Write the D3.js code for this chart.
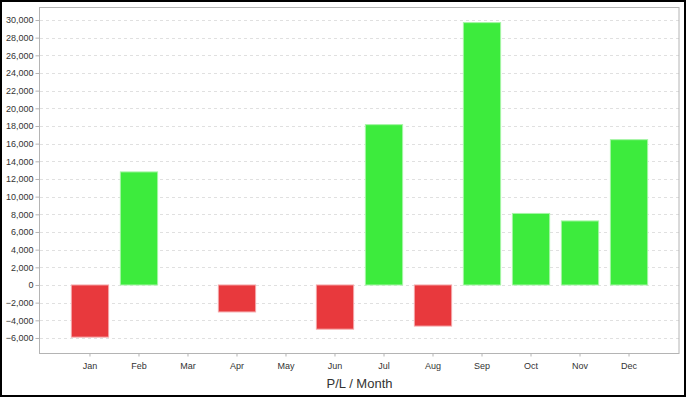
<!DOCTYPE html>
<html>
<head>
<meta charset="utf-8">
<script src="https://cdn.jsdelivr.net/npm/d3@7"></script>
<style>
	body { margin: 0; background: white; }
	text { font-family: "Liberation Sans", Arial, sans-serif; }
</style>
</head>
<body>
<script>
// P/L per month
var months = ['Jan', 'Feb', 'Mar', 'Apr', 'May', 'Jun', 'Jul', 'Aug', 'Sep', 'Oct', 'Nov', 'Dec']
var pl = [-5900, 12800, 0, -3050, 0, -5000, 18150, -4650, 29700, 8100, 7250, 16450]
var yTicks = [-6000, -4000, -2000, 0, 2000, 4000, 6000, 8000, 10000, 12000, 14000, 16000,
	18000, 20000, 22000, 24000, 26000, 28000, 30000]

var width = 688,
	height = 398

var plot = {left: 40, top: 7, right: 679, bottom: 353}

var svg = d3.select('body').append('svg')
	.attr('width', width)
	.attr('height', height)

// outer frame
svg.append('rect')
	.attr('x', 1).attr('y', 1)
	.attr('width', 684).attr('height', 395)
	.attr('fill', 'white')
	.attr('stroke', 'black')
	.attr('stroke-width', 2)

var x = d3.scaleBand()
	.domain(months)
	.range([plot.left, plot.right])
	.paddingInner(0.24)
	.paddingOuter(0.64)

var y = d3.scaleLinear()
	.domain([-7700, 31470])
	.range([plot.bottom, plot.top])

// grid
svg.append('g')
	.selectAll('line')
	.data(yTicks)
	.enter()
	.append('line')
		.attr('x1', plot.left)
		.attr('x2', plot.right)
		.attr('y1', d => Math.round(y(d)) + 0.5)
		.attr('y2', d => Math.round(y(d)) + 0.5)
		.attr('stroke', '#e0e0e0')
		.attr('stroke-dasharray', '3,3')

// bars
svg.append('g')
	.selectAll('rect')
	.data(pl.map((v, i) => ({m: months[i], v: v})).filter(d => d.v != 0))
	.enter()
	.append('rect')
		.attr('x', d => x(d.m))
		.attr('width', x.bandwidth())
		.attr('y', d => y(Math.max(0, d.v)))
		.attr('height', d => Math.abs(y(d.v) - y(0)))
		.attr('fill', d => d.v < 0 ? '#e8393d' : '#3deb3d')
		.attr('stroke', d => d.v < 0 ? '#f4a5a7' : '#a5f5a5')
		.attr('stroke-width', 1)

// plot frame
svg.append('rect')
	.attr('x', plot.left - 0.5)
	.attr('y', plot.top + 0.5)
	.attr('width', plot.right - plot.left + 0.5)
	.attr('height', plot.bottom - plot.top)
	.attr('fill', 'none')
	.attr('stroke', '#b4b4b4')

// y axis
var yAxis = svg.append('g')
	.attr('transform', 'translate(' + (plot.left - 0.5) + ',0)')
	.call(d3.axisLeft(y).tickValues(yTicks).tickSize(4).tickPadding(2)
		.tickFormat(d3.format(',')))
yAxis.select('.domain').remove()
yAxis.selectAll('line').attr('stroke', '#b4b4b4')
yAxis.selectAll('text')
	.style('font-size', '9px')
	.attr('fill', '#333')

// x axis
var xAxis = svg.append('g')
	.attr('transform', 'translate(0,' + (plot.bottom + 0.5) + ')')
	.call(d3.axisBottom(x).tickSize(3).tickPadding(6))
xAxis.select('.domain').remove()
xAxis.selectAll('line').attr('stroke', '#b4b4b4')
xAxis.selectAll('text')
	.style('font-size', '9px')
	.attr('fill', '#333')

svg.append('text')
	.attr('x', (plot.left + plot.right) / 2)
	.attr('y', 388)
	.attr('text-anchor', 'middle')
	.style('font-size', '13px')
	.attr('fill', '#333')
	.text('P/L / Month')
</script>
</body>
</html>
